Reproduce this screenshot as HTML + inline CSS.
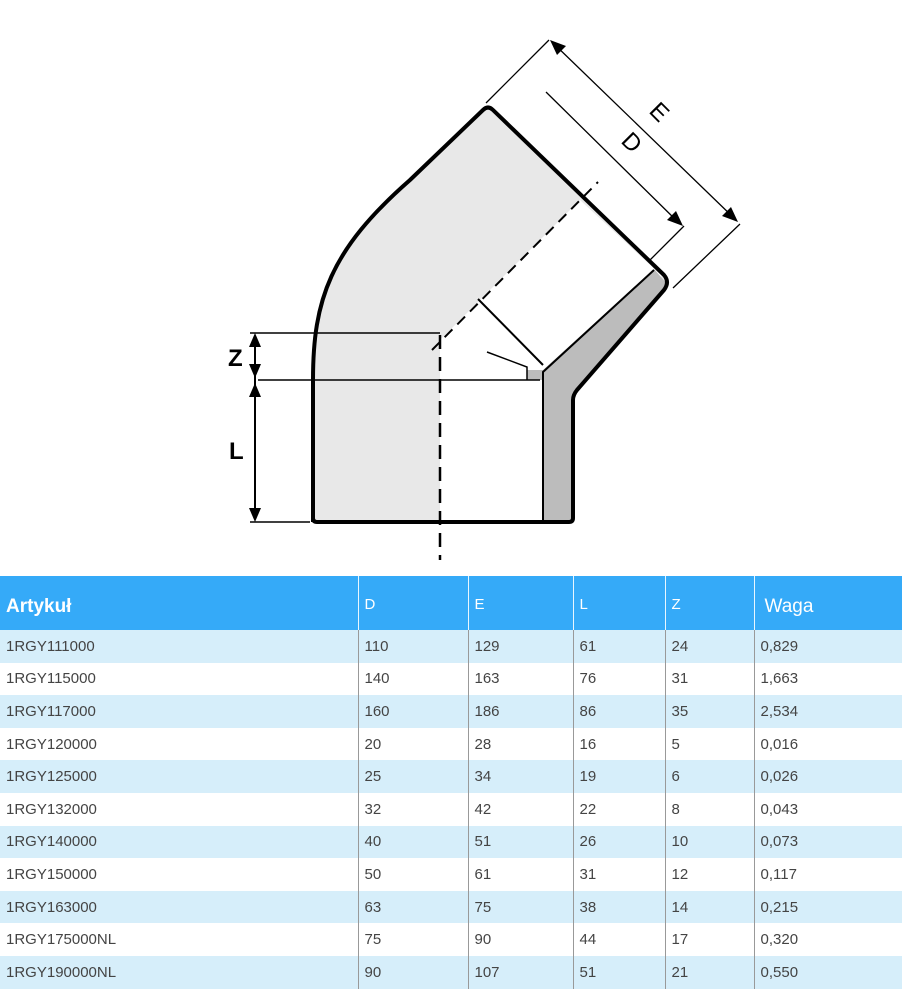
<!DOCTYPE html>
<html><head><meta charset="utf-8"><style>
body{margin:0;width:902px;height:989px;background:#fff;overflow:hidden;font-family:"Liberation Sans",sans-serif;position:relative}
svg{position:absolute;left:0;top:0}
table{position:absolute;left:0;top:576px;width:902px;border-collapse:collapse}
td{height:32.6px;padding:0 0 0 6px;font-size:15px;color:#444;border-left:1px solid #999;box-sizing:border-box}
td:first-child{border-left:none;padding-left:6px}
tr.h td{height:54px;background:#35aaf8;color:#fff;border-left:1px solid #e8f6ff;vertical-align:middle}
tr.h td:first-child{border-left:none}
tr:nth-child(even) td{background:#d6eefa}
</style></head><body>
<svg width="902" height="576" viewBox="0 0 902 576">
<g stroke="#000" fill="none">
<path d="M313 522 L313 380 C313 300 330 250 410 180 L488 107 L668 280 L573 393 L573 522 Z" fill="#e8e8e8" stroke="none"/>
<path d="M440 340 L580 200 L662 276 L543 378 L543 522 L440 522 Z" fill="#fff" stroke="none"/>
<path d="M543 380 L543 522 L573 522 L573 393 L668 285 L654 269 L543 370 L527 370 L527 380 Z" fill="#bcbcbc" stroke="none"/>
<path d="M313 522 L313 380 C313 300 330 250 410 180 L483 110 Q488 105 493 110 L664 275 Q670 282 664 290 L577 390 Q573 395 573 400 L573 518 Q573 522 569 522 L317 522 Q313 522 313 518" stroke-width="4" stroke-linejoin="round"/>
<path d="M654 270 L543 372 L543 522" stroke-width="2"/>
<path d="M478 299 L543 365" stroke-width="2"/>
<path d="M487 352 L527 367 L527 380" stroke-width="1.5"/>
<path d="M440 335 L440 560" stroke-width="2.5" stroke-dasharray="14 8"/>
<path d="M432 350 L598 182" stroke-width="2" stroke-dasharray="11 7"/>
<path d="M250 333 L440 333 M258 380 L540 380 M250 522 L310 522" stroke-width="1.5"/>
<path d="M255 336 L255 519" stroke-width="2"/>
<path d="M486 103 L549 40 M673 288 L740 224" stroke-width="1.3"/>
<path d="M552 42 L736 220" stroke-width="1.3"/>
<path d="M546 92 L680 224 M648 262 L684 226" stroke-width="1.3"/>
</g>
<g fill="#000">
<polygon points="255,333 249,347 261,347"/><polygon points="255,378 249,364 261,364"/>
<polygon points="255,383 249,397 261,397"/><polygon points="255,522 249,508 261,508"/>
<polygon points="550,40 566,46 557,55"/><polygon points="738,222 722,216 731,207"/>
<polygon points="683,226 667,220 676,211"/>
</g>
<text x="228" y="366" font-size="24" font-family="Liberation Sans" font-weight="bold">Z</text>
<text x="229" y="459" font-size="24" font-family="Liberation Sans" font-weight="bold">L</text>
<text transform="translate(648,112) rotate(45)" font-size="24" font-family="Liberation Sans">E</text>
<text transform="translate(620,142) rotate(45)" font-size="24" font-family="Liberation Sans">D</text>
</svg>
<table>
<colgroup><col style="width:358px"><col style="width:110px"><col style="width:105px"><col style="width:92px"><col style="width:89px"><col></colgroup>
<tr class="h"><td style="font-size:19px;font-weight:bold;padding-top:8px">Artykuł</td><td style="font-size:15px;padding-top:2px">D</td><td style="font-size:15px;padding-top:2px">E</td><td style="font-size:15px;padding-top:2px">L</td><td style="font-size:15px;padding-top:2px">Z</td><td style="font-size:19px;padding-left:10px;padding-top:8px">Waga</td></tr>
<tr><td>1RGY111000</td><td>110</td><td>129</td><td>61</td><td>24</td><td>0,829</td></tr>
<tr><td>1RGY115000</td><td>140</td><td>163</td><td>76</td><td>31</td><td>1,663</td></tr>
<tr><td>1RGY117000</td><td>160</td><td>186</td><td>86</td><td>35</td><td>2,534</td></tr>
<tr><td>1RGY120000</td><td>20</td><td>28</td><td>16</td><td>5</td><td>0,016</td></tr>
<tr><td>1RGY125000</td><td>25</td><td>34</td><td>19</td><td>6</td><td>0,026</td></tr>
<tr><td>1RGY132000</td><td>32</td><td>42</td><td>22</td><td>8</td><td>0,043</td></tr>
<tr><td>1RGY140000</td><td>40</td><td>51</td><td>26</td><td>10</td><td>0,073</td></tr>
<tr><td>1RGY150000</td><td>50</td><td>61</td><td>31</td><td>12</td><td>0,117</td></tr>
<tr><td>1RGY163000</td><td>63</td><td>75</td><td>38</td><td>14</td><td>0,215</td></tr>
<tr><td>1RGY175000NL</td><td>75</td><td>90</td><td>44</td><td>17</td><td>0,320</td></tr>
<tr><td>1RGY190000NL</td><td>90</td><td>107</td><td>51</td><td>21</td><td>0,550</td></tr>
</table>
</body></html>
